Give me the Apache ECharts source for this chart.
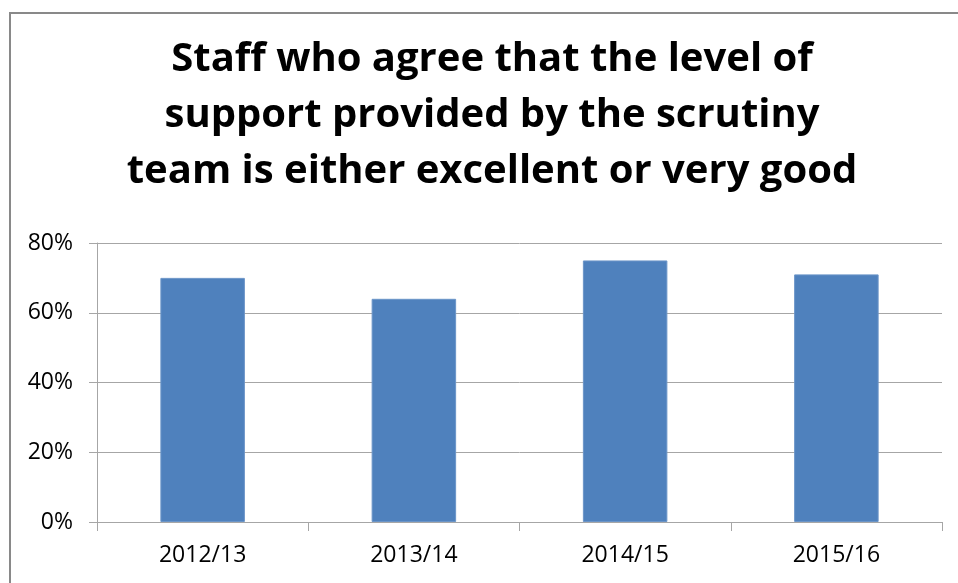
<!DOCTYPE html>
<html>

<head>
    <meta charset="UTF-8">
    <script src="https://cdn.jsdelivr.net/npm/echarts@6/dist/echarts.min.js"></script>
</head>

<body style="margin:0;background-color:#ffffff;">
    <div id="main" style="height:583px;width:958px"></div>
    <script type="text/javascript">
        // 数据
        var years = ['2012/13', '2013/14', '2014/15', '2015/16'];
        var agreePct = [70, 64, 75, 71];
        var yTicks = [0, 20, 40, 60, 80];

        var myChart = echarts.init(document.getElementById('main'));

        var option = {
            backgroundColor: '#ffffff',
            animation: false,
            title: {
                text: 'Staff who agree that the level of\nsupport provided by the scrutiny\nteam is either excellent or very good',
                left: 487,
                top: 27,
                textAlign: 'center',
                textStyle: {
                    fontFamily: 'Open Sans',
                    fontWeight: 'bold',
                    fontSize: 40,
                    lineHeight: 56,
                    color: '#000000'
                }
            },
            graphic: [{
                // 外边框
                type: 'rect',
                shape: { x: 10, y: 13, width: 1000, height: 700 },
                style: { fill: 'none', stroke: '#898989', lineWidth: 2 },
                silent: true
            }],
            grid: {
                left: 97,
                right: 16,
                top: 243,
                bottom: 61
            },
            xAxis: {
                type: 'category',
                data: years,
                axisLine: { lineStyle: { color: '#a6a6a6', width: 1 } },
                axisTick: { show: true, length: 9, alignWithLabel: false, lineStyle: { color: '#a6a6a6' } },
                axisLabel: {
                    fontFamily: 'Open Sans',
                    fontSize: 23,
                    color: '#000000',
                    margin: 22
                }
            },
            yAxis: {
                type: 'value',
                min: yTicks[0],
                max: yTicks[yTicks.length - 1],
                interval: 20,
                axisLine: { show: true, lineStyle: { color: '#a6a6a6', width: 1 } },
                axisTick: { show: true, length: 8, lineStyle: { color: '#a6a6a6' } },
                splitLine: { lineStyle: { color: '#a6a6a6', width: 1 } },
                axisLabel: {
                    fontFamily: 'Open Sans',
                    fontSize: 23,
                    color: '#000000',
                    margin: 24,
                    formatter: '{value}%'
                }
            },
            series: [{
                name: 'agree',
                type: 'bar',
                data: agreePct,
                barWidth: '40%',
                itemStyle: { color: '#4f81bd', borderColor: '#6b95c8', borderWidth: 1 }
            }]
        };

        myChart.setOption(option);
    </script>
</body>

</html>
